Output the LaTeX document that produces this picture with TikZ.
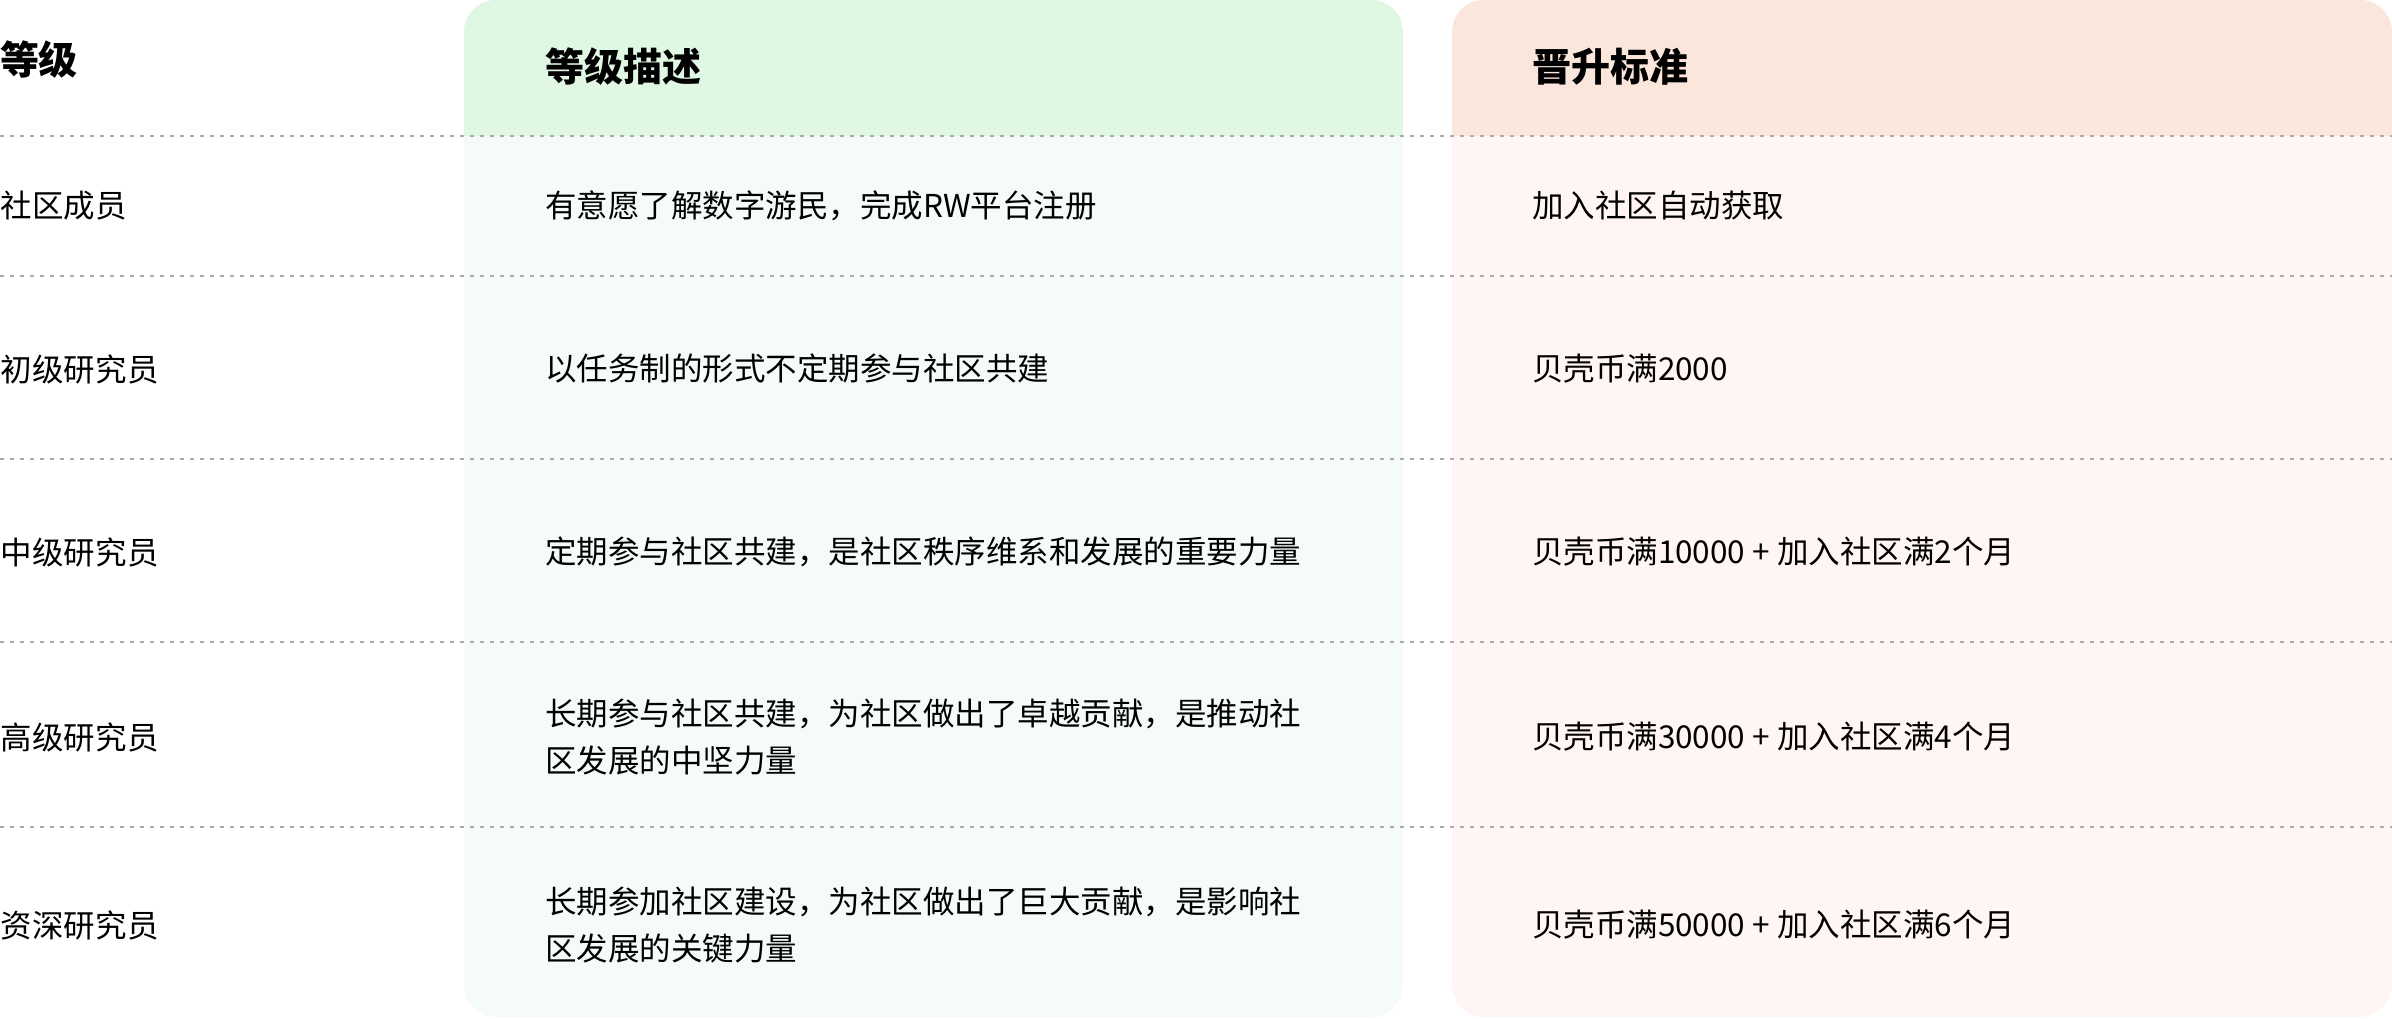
\documentclass[tikz,border=0pt]{standalone}
\usepackage{fontspec}
\setmainfont{Noto Sans CJK SC}
\definecolor{ghead}{HTML}{E0F7E3}
\definecolor{gbody}{HTML}{F5FCF7}
\definecolor{ohead}{HTML}{FBE6DB}
\definecolor{obody}{HTML}{FFF6F3}
\definecolor{rulegray}{HTML}{ABABAB}
\begin{document}
\begin{tikzpicture}[x=0.5pt,y=-0.5pt,
  every node/.style={inner sep=0pt, outer sep=0pt, anchor=west, text=black},
  body/.style={font=\fontsize{15.75pt}{23.5pt}\selectfont, align=left},
  head/.style={font=\fontsize{19.5pt}{24pt}\selectfont\bfseries},
  rowrule/.style={draw=rulegray, line width=1pt, dash pattern=on 2pt off 3pt}]
\useasboundingbox (0,0) rectangle (2392,1018);
% green column
\begin{scope}
  \clip[rounded corners=16pt] (464,0) rectangle (1403,1017);
  \fill[gbody] (464,0) rectangle (1403,1017);
  \fill[ghead] (464,0) rectangle (1403,136);
\end{scope}
% orange column
\begin{scope}
  \clip[rounded corners=16pt] (1452,0) rectangle (2392,1017);
  \fill[obody] (1452,0) rectangle (2392,1017);
  \fill[ohead] (1452,0) rectangle (2392,136);
\end{scope}
% rules
\foreach \yy in {136,276,459,642,827}
  \draw[rowrule] (0,\yy) -- (2392,\yy);
% headers
\node[head] (h1) at (0,60) {等级};
\node[head] (h2) at (545,67) {等级描述};
\node[head] (h3) at (1532,67) {晋升标准};
% row 1
\node[body] (r1a) at (1,206) {社区成员};
\node[body] (r1b) at (545,206) {有意愿了解数字游民，完成RW平台注册};
\node[body] (r1c) at (1532,206) {加入社区自动获取};
% row 2
\node[body] (r2a) at (1,369) {初级研究员};
\node[body] (r2b) at (545,369) {以任务制的形式不定期参与社区共建};
\node[body] (r2c) at (1532,369) {贝壳币满2000};
% row 3
\node[body] (r3a) at (1,552) {中级研究员};
\node[body] (r3b) at (545,552) {定期参与社区共建，是社区秩序维系和发展的重要力量};
\node[body] (r3c) at (1532,552) {贝壳币满10000 + 加入社区满2个月};
% row 4
\node[body] (r4a) at (1,737) {高级研究员};
\node[body] (r4b) at (545,737) {长期参与社区共建，为社区做出了卓越贡献，是推动社\\区发展的中坚力量};
\node[body] (r4c) at (1532,737) {贝壳币满30000 + 加入社区满4个月};
% row 5
\node[body] (r5a) at (1,925) {资深研究员};
\node[body] (r5b) at (545,925) {长期参加社区建设，为社区做出了巨大贡献，是影响社\\区发展的关键力量};
\node[body] (r5c) at (1532,925) {贝壳币满50000 + 加入社区满6个月};
\end{tikzpicture}
\end{document}
